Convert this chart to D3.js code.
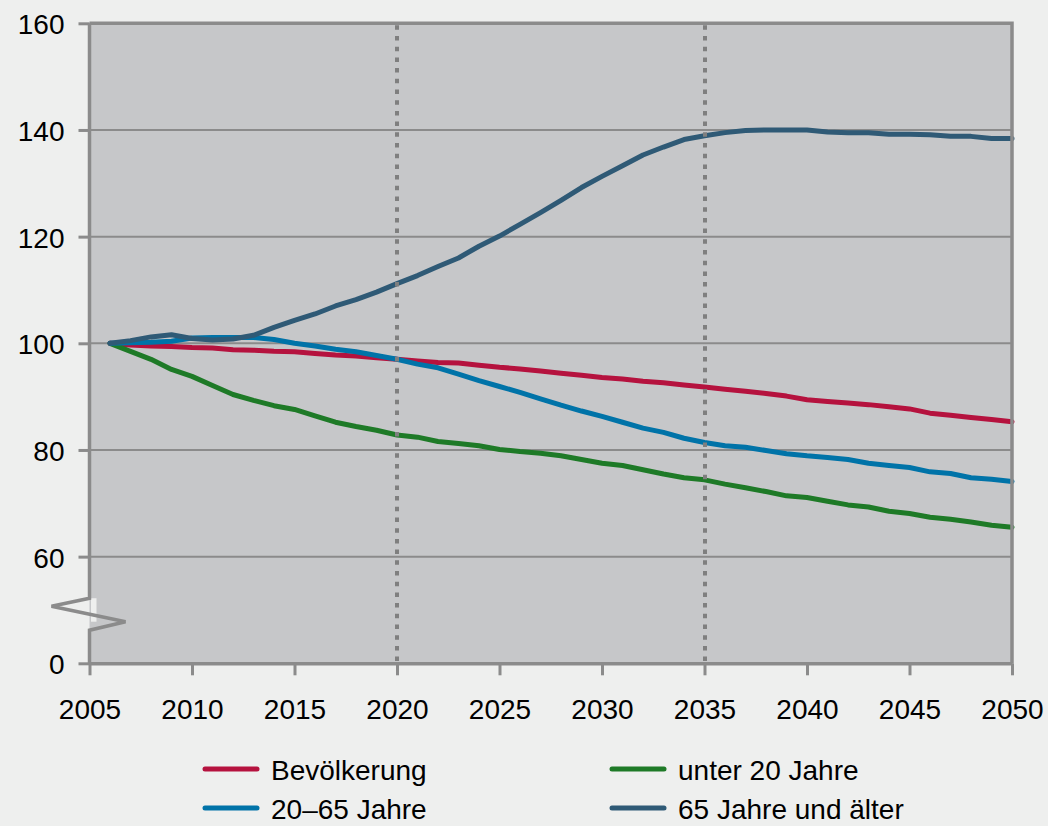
<!DOCTYPE html>
<html>
<head>
<meta charset="utf-8">
<script src="https://cdn.jsdelivr.net/npm/d3@7"></script>
<style>
  html, body { margin: 0; padding: 0; background: #eeefee; }
  svg { display: block; font-family: 'Liberation Sans', Arial, sans-serif; }
</style>
</head>
<body>
<svg id="chart" width="1048" height="826"></svg>
<script>
// years 2006..2050, index 2006 = 100
const years = d3.range(2006, 2051);

const bevoelkerung = [
  100, 99.7, 99.5, 99.4, 99.2, 99.1, 98.8, 98.7, 98.5, 98.4,
  98.1, 97.8, 97.6, 97.3, 97.0, 96.7, 96.4, 96.3, 95.9, 95.5,
  95.2, 94.8, 94.4, 94.0, 93.6, 93.3, 92.9, 92.6, 92.2, 91.8,
  91.4, 91.0, 90.6, 90.1, 89.4, 89.1, 88.8, 88.5, 88.1, 87.7,
  86.9, 86.5, 86.1, 85.7, 85.3,
];

const unter20 = [
  100, 98.5, 97.0, 95.1, 93.8, 92.1, 90.4, 89.3, 88.3, 87.6,
  86.4, 85.2, 84.4, 83.7, 82.8, 82.4, 81.6, 81.2, 80.8, 80.1,
  79.7, 79.4, 78.9, 78.2, 77.5, 77.1, 76.3, 75.5, 74.8, 74.4,
  73.6, 72.9, 72.2, 71.4, 71.1, 70.4, 69.7, 69.3, 68.5, 68.1,
  67.4, 67.0, 66.5, 65.9, 65.5,
];

const jahre20bis65 = [
  100, 100.1, 100.2, 100.4, 101.0, 101.1, 101.1, 101.1, 100.7, 100.0,
  99.5, 98.9, 98.4, 97.7, 97.0, 96.1, 95.4, 94.2, 93.0, 91.9,
  90.8, 89.6, 88.4, 87.3, 86.3, 85.2, 84.1, 83.3, 82.2, 81.4,
  80.8, 80.5, 79.9, 79.3, 78.9, 78.6, 78.2, 77.5, 77.1, 76.7,
  75.9, 75.6, 74.8, 74.5, 74.1,
];

const ab65 = [
  100, 100.5, 101.2, 101.6, 100.9, 100.6, 100.8, 101.5, 103.0, 104.3,
  105.5, 107.0, 108.2, 109.6, 111.2, 112.7, 114.4, 116.0, 118.2, 120.1,
  122.3, 124.5, 126.8, 129.2, 131.3, 133.3, 135.3, 136.8, 138.2, 138.9,
  139.5, 139.9, 140.0, 140.0, 140.0, 139.6, 139.5, 139.5, 139.2, 139.2,
  139.1, 138.8, 138.8, 138.4, 138.4,
];

const seriesNames = ['Bevölkerung', 'unter 20 Jahre', '20–65 Jahre', '65 Jahre und älter'];
const seriesColors = ['#b5123e', '#1e7a27', '#0073a8', '#2f5a76'];
const seriesValues = [bevoelkerung, unter20, jahre20bis65, ab65];

// broken axis: position 40 carries the label 0
const yTicks = [40, 60, 80, 100, 120, 140, 160];
const yTickLabels = ['0', '60', '80', '100', '120', '140', '160'];
const xTicks = d3.range(2005, 2051, 5);
const markerYears = [2020, 2035];
const breakValues = [52.2, 50.7, 47.8, 46.2];

drawChart(d3.select('#chart'));

function drawChart(svg) {
  const width = 1048;
  const margin = { top: 23.3, right: 36, bottom: 162.7, left: 89.5 };
  const height = 826;
  const axisColor = '#8b8b8b';

  const x = d3.scaleLinear()
    .domain([2005, 2050])
    .range([margin.left, width - margin.right]);
  const y = d3.scaleLinear()
    .domain([40, 160])
    .range([height - margin.bottom, margin.top]);

  // plot area
  svg.append('rect')
    .attr('x', x(2005)).attr('y', y(160))
    .attr('width', x(2050) - x(2005)).attr('height', y(40) - y(160))
    .attr('fill', '#c6c7c9');

  // gridlines
  svg.append('g')
    .selectAll('line')
    .data(yTicks.filter(d => d > 40 && d < 160))
    .join('line')
    .attr('x1', x(2005)).attr('x2', x(2050))
    .attr('y1', d => y(d)).attr('y2', d => y(d))
    .attr('stroke', axisColor)
    .attr('stroke-width', 2);

  // series
  const line = d3.line()
    .x((d, i) => x(years[i]))
    .y(d => y(d));

  svg.append('g')
    .selectAll('path')
    .data(seriesValues)
    .join('path')
    .attr('d', d => line(d))
    .attr('fill', 'none')
    .attr('stroke', (d, i) => seriesColors[i])
    .attr('stroke-width', 5)
    .attr('stroke-linejoin', 'round')
    .attr('stroke-linecap', 'round');

  // dotted markers (snapped to whole pixels so the dots stay crisp)
  svg.append('g')
    .selectAll('line')
    .data(markerYears)
    .join('line')
    .attr('x1', d => Math.round(x(d))).attr('x2', d => Math.round(x(d)))
    .attr('y1', y(160) + 2).attr('y2', y(40))
    .attr('stroke', '#7f7f7f')
    .attr('stroke-width', 4)
    .attr('stroke-dasharray', '4.5,6.2');

  // frame: top and right
  svg.append('path')
    .attr('d', `M${x(2005)},${y(160)}H${x(2050)}V${y(40)}`)
    .attr('fill', 'none')
    .attr('stroke', axisColor)
    .attr('stroke-width', 3.5);

  // bottom axis
  const xAxis = g => g
    .attr('transform', `translate(0,${y(40)})`)
    .call(d3.axisBottom(x).tickValues(xTicks).tickFormat(d3.format('d'))
      .tickSize(12).tickPadding(24).tickSizeOuter(0))
    .call(g => g.select('.domain').attr('stroke', axisColor).attr('stroke-width', 3.5))
    .call(g => g.selectAll('.tick line').attr('stroke', axisColor).attr('stroke-width', 3))
    .call(g => g.selectAll('.tick text').attr('fill', '#000').style('font-size', '28px')
      .style('font-family', "'Liberation Sans', Arial, sans-serif"));
  svg.append('g').call(xAxis);

  // left axis with break
  const yAxis = g => g
    .attr('transform', `translate(${x(2005)},0)`)
    .call(d3.axisLeft(y).tickValues(yTicks).tickFormat((d, i) => yTickLabels[i])
      .tickSize(11).tickPadding(14))
    .call(g => g.select('.domain').remove())
    .call(g => g.selectAll('.tick line').attr('stroke', axisColor).attr('stroke-width', 3))
    .call(g => g.selectAll('.tick text').attr('fill', '#000').attr('dy', '0.38em')
      .style('font-size', '28px')
      .style('font-family', "'Liberation Sans', Arial, sans-serif"));
  svg.append('g').call(yAxis);

  // gap behind the break
  svg.append('rect')
    .attr('x', x(2005) + 1.5).attr('y', y(breakValues[0]))
    .attr('width', 5.5).attr('height', y(breakValues[2]) - y(breakValues[0]))
    .attr('fill', '#eeefee');

  const ax = x(2005);
  const breakPath = d3.path();
  breakPath.moveTo(ax, y(160));
  breakPath.lineTo(ax, y(breakValues[0]));
  breakPath.lineTo(ax - 38, y(breakValues[1]));
  breakPath.lineTo(ax + 36, y(breakValues[2]));
  breakPath.lineTo(ax, y(breakValues[3]));
  breakPath.lineTo(ax, y(40) + 1.75);
  svg.append('path')
    .attr('d', breakPath.toString())
    .attr('fill', 'none')
    .attr('stroke', axisColor)
    .attr('stroke-width', 3.5)
    .attr('stroke-linejoin', 'miter');

  // legend
  const legendCols = [205, 612];
  const legendRows = [769, 808];
  const legend = svg.append('g')
    .selectAll('g')
    .data(seriesNames)
    .join('g')
    .attr('transform', (d, i) => `translate(${legendCols[i % 2]},${legendRows[Math.floor(i / 2)]})`);

  legend.append('line')
    .attr('x1', 0).attr('x2', 52)
    .attr('stroke', (d, i) => seriesColors[i])
    .attr('stroke-width', 5)
    .attr('stroke-linecap', 'round');

  legend.append('text')
    .attr('x', 66)
    .attr('dy', '0.38em')
    .style('font-size', '28px')
    .attr('fill', '#000')
    .text(d => d);
}
</script>
</body>
</html>
